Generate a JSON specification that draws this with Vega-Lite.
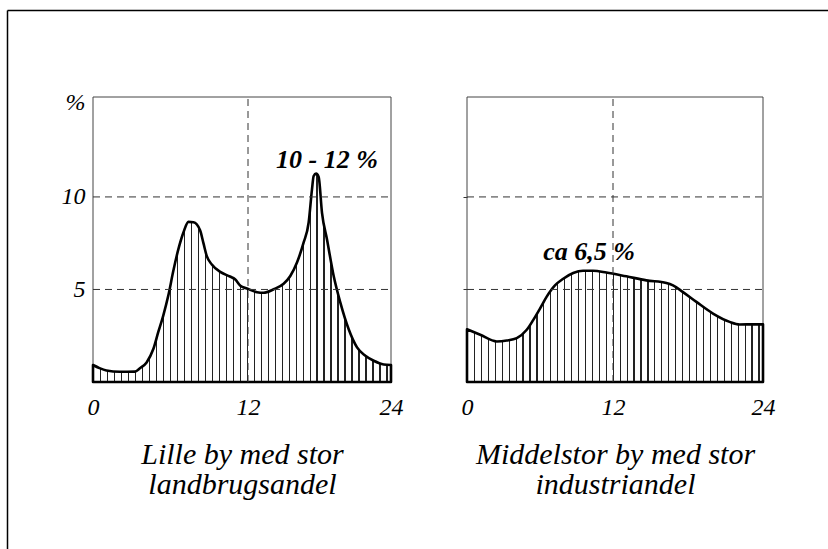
{
  "$schema": "https://vega.github.io/schema/vega-lite/v6.json",
  "width": 821,
  "height": 539,
  "autosize": {"type": "none"},
  "padding": {"left": 7, "top": 10, "right": 0, "bottom": 0},
  "background": "white",
  "config": {
    "view": {"stroke": null},
    "font": "Liberation Serif",
    "axis": {"labelFont": "Liberation Serif", "titleFont": "Liberation Serif", "labelColor": "#000", "titleColor": "#000"},
    "area": {
      "opacity": 1,
      "fill": {
        "gradient": "linear", "x1": 0, "y1": 0, "x2": 1, "y2": 0,
        "stops": [
          {"offset": 0, "color": "#fff"},
          {"offset": 0.0234375, "color": "#fff"}, {"offset": 0.0234375, "color": "#222"}, {"offset": 0.02734375, "color": "#222"}, {"offset": 0.02734375, "color": "#fff"},
          {"offset": 0.046875, "color": "#fff"}, {"offset": 0.046875, "color": "#222"}, {"offset": 0.05078125, "color": "#222"}, {"offset": 0.05078125, "color": "#fff"},
          {"offset": 0.0703125, "color": "#fff"}, {"offset": 0.0703125, "color": "#222"}, {"offset": 0.07421875, "color": "#222"}, {"offset": 0.07421875, "color": "#fff"},
          {"offset": 0.09375, "color": "#fff"}, {"offset": 0.09375, "color": "#222"}, {"offset": 0.09765625, "color": "#222"}, {"offset": 0.09765625, "color": "#fff"},
          {"offset": 0.1171875, "color": "#fff"}, {"offset": 0.1171875, "color": "#222"}, {"offset": 0.12109375, "color": "#222"}, {"offset": 0.12109375, "color": "#fff"},
          {"offset": 0.140625, "color": "#fff"}, {"offset": 0.140625, "color": "#222"}, {"offset": 0.14453125, "color": "#222"}, {"offset": 0.14453125, "color": "#fff"},
          {"offset": 0.1640625, "color": "#fff"}, {"offset": 0.1640625, "color": "#222"}, {"offset": 0.16796875, "color": "#222"}, {"offset": 0.16796875, "color": "#fff"},
          {"offset": 0.1875, "color": "#fff"}, {"offset": 0.1875, "color": "#222"}, {"offset": 0.19140625, "color": "#222"}, {"offset": 0.19140625, "color": "#fff"},
          {"offset": 0.2109375, "color": "#fff"}, {"offset": 0.2109375, "color": "#222"}, {"offset": 0.21484375, "color": "#222"}, {"offset": 0.21484375, "color": "#fff"},
          {"offset": 0.234375, "color": "#fff"}, {"offset": 0.234375, "color": "#222"}, {"offset": 0.23828125, "color": "#222"}, {"offset": 0.23828125, "color": "#fff"},
          {"offset": 0.2578125, "color": "#fff"}, {"offset": 0.2578125, "color": "#222"}, {"offset": 0.26171875, "color": "#222"}, {"offset": 0.26171875, "color": "#fff"},
          {"offset": 0.28125, "color": "#fff"}, {"offset": 0.28125, "color": "#222"}, {"offset": 0.28515625, "color": "#222"}, {"offset": 0.28515625, "color": "#fff"},
          {"offset": 0.3046875, "color": "#fff"}, {"offset": 0.3046875, "color": "#222"}, {"offset": 0.30859375, "color": "#222"}, {"offset": 0.30859375, "color": "#fff"},
          {"offset": 0.328125, "color": "#fff"}, {"offset": 0.328125, "color": "#222"}, {"offset": 0.33203125, "color": "#222"}, {"offset": 0.33203125, "color": "#fff"},
          {"offset": 0.3515625, "color": "#fff"}, {"offset": 0.3515625, "color": "#222"}, {"offset": 0.35546875, "color": "#222"}, {"offset": 0.35546875, "color": "#fff"},
          {"offset": 0.375, "color": "#fff"}, {"offset": 0.375, "color": "#222"}, {"offset": 0.37890625, "color": "#222"}, {"offset": 0.37890625, "color": "#fff"},
          {"offset": 0.3984375, "color": "#fff"}, {"offset": 0.3984375, "color": "#222"}, {"offset": 0.40234375, "color": "#222"}, {"offset": 0.40234375, "color": "#fff"},
          {"offset": 0.421875, "color": "#fff"}, {"offset": 0.421875, "color": "#222"}, {"offset": 0.42578125, "color": "#222"}, {"offset": 0.42578125, "color": "#fff"},
          {"offset": 0.4453125, "color": "#fff"}, {"offset": 0.4453125, "color": "#222"}, {"offset": 0.44921875, "color": "#222"}, {"offset": 0.44921875, "color": "#fff"},
          {"offset": 0.46875, "color": "#fff"}, {"offset": 0.46875, "color": "#222"}, {"offset": 0.47265625, "color": "#222"}, {"offset": 0.47265625, "color": "#fff"},
          {"offset": 0.4921875, "color": "#fff"}, {"offset": 0.4921875, "color": "#222"}, {"offset": 0.49609375, "color": "#222"}, {"offset": 0.49609375, "color": "#fff"},
          {"offset": 0.515625, "color": "#fff"}, {"offset": 0.515625, "color": "#222"}, {"offset": 0.51953125, "color": "#222"}, {"offset": 0.51953125, "color": "#fff"},
          {"offset": 0.5390625, "color": "#fff"}, {"offset": 0.5390625, "color": "#222"}, {"offset": 0.54296875, "color": "#222"}, {"offset": 0.54296875, "color": "#fff"},
          {"offset": 0.5625, "color": "#fff"}, {"offset": 0.5625, "color": "#222"}, {"offset": 0.56640625, "color": "#222"}, {"offset": 0.56640625, "color": "#fff"},
          {"offset": 0.5859375, "color": "#fff"}, {"offset": 0.5859375, "color": "#222"}, {"offset": 0.58984375, "color": "#222"}, {"offset": 0.58984375, "color": "#fff"},
          {"offset": 0.609375, "color": "#fff"}, {"offset": 0.609375, "color": "#222"}, {"offset": 0.61328125, "color": "#222"}, {"offset": 0.61328125, "color": "#fff"},
          {"offset": 0.6328125, "color": "#fff"}, {"offset": 0.6328125, "color": "#222"}, {"offset": 0.63671875, "color": "#222"}, {"offset": 0.63671875, "color": "#fff"},
          {"offset": 0.65625, "color": "#fff"}, {"offset": 0.65625, "color": "#222"}, {"offset": 0.66015625, "color": "#222"}, {"offset": 0.66015625, "color": "#fff"},
          {"offset": 0.6796875, "color": "#fff"}, {"offset": 0.6796875, "color": "#222"}, {"offset": 0.68359375, "color": "#222"}, {"offset": 0.68359375, "color": "#fff"},
          {"offset": 0.703125, "color": "#fff"}, {"offset": 0.703125, "color": "#222"}, {"offset": 0.70703125, "color": "#222"}, {"offset": 0.70703125, "color": "#fff"},
          {"offset": 0.7265625, "color": "#fff"}, {"offset": 0.7265625, "color": "#222"}, {"offset": 0.73046875, "color": "#222"}, {"offset": 0.73046875, "color": "#fff"},
          {"offset": 0.75, "color": "#fff"}, {"offset": 0.75, "color": "#222"}, {"offset": 0.75390625, "color": "#222"}, {"offset": 0.75390625, "color": "#fff"},
          {"offset": 0.7734375, "color": "#fff"}, {"offset": 0.7734375, "color": "#222"}, {"offset": 0.77734375, "color": "#222"}, {"offset": 0.77734375, "color": "#fff"},
          {"offset": 0.796875, "color": "#fff"}, {"offset": 0.796875, "color": "#222"}, {"offset": 0.80078125, "color": "#222"}, {"offset": 0.80078125, "color": "#fff"},
          {"offset": 0.8203125, "color": "#fff"}, {"offset": 0.8203125, "color": "#222"}, {"offset": 0.82421875, "color": "#222"}, {"offset": 0.82421875, "color": "#fff"},
          {"offset": 0.84375, "color": "#fff"}, {"offset": 0.84375, "color": "#222"}, {"offset": 0.84765625, "color": "#222"}, {"offset": 0.84765625, "color": "#fff"},
          {"offset": 0.8671875, "color": "#fff"}, {"offset": 0.8671875, "color": "#222"}, {"offset": 0.87109375, "color": "#222"}, {"offset": 0.87109375, "color": "#fff"},
          {"offset": 0.890625, "color": "#fff"}, {"offset": 0.890625, "color": "#222"}, {"offset": 0.89453125, "color": "#222"}, {"offset": 0.89453125, "color": "#fff"},
          {"offset": 0.9140625, "color": "#fff"}, {"offset": 0.9140625, "color": "#222"}, {"offset": 0.91796875, "color": "#222"}, {"offset": 0.91796875, "color": "#fff"},
          {"offset": 0.9375, "color": "#fff"}, {"offset": 0.9375, "color": "#222"}, {"offset": 0.94140625, "color": "#222"}, {"offset": 0.94140625, "color": "#fff"},
          {"offset": 0.9609375, "color": "#fff"}, {"offset": 0.9609375, "color": "#222"}, {"offset": 0.96484375, "color": "#222"}, {"offset": 0.96484375, "color": "#fff"},
          {"offset": 0.984375, "color": "#fff"}, {"offset": 0.984375, "color": "#222"}, {"offset": 0.98828125, "color": "#222"}, {"offset": 0.98828125, "color": "#fff"},
          {"offset": 1, "color": "#fff"}
        ]
      }
    }
  },
  "datasets": {
    "small": [
      {"h": 0, "v": 0.92}, {"h": 0.5, "v": 0.75}, {"h": 1.04, "v": 0.62}, {"h": 2.07, "v": 0.55},
      {"h": 3.24, "v": 0.56}, {"h": 3.63, "v": 0.74}, {"h": 4.15, "v": 1.06}, {"h": 4.67, "v": 1.78},
      {"h": 5.05, "v": 2.69}, {"h": 5.44, "v": 3.59}, {"h": 5.83, "v": 4.67}, {"h": 6.22, "v": 6.01},
      {"h": 6.61, "v": 7.18}, {"h": 7.0, "v": 8.08}, {"h": 7.39, "v": 8.65}, {"h": 7.78, "v": 8.63},
      {"h": 8.29, "v": 8.2}, {"h": 8.55, "v": 7.5}, {"h": 8.81, "v": 6.8}, {"h": 9.2, "v": 6.35},
      {"h": 9.85, "v": 5.95}, {"h": 10.6, "v": 5.7}, {"h": 11.0, "v": 5.55}, {"h": 11.41, "v": 5.2},
      {"h": 11.92, "v": 5.05}, {"h": 12.76, "v": 4.85}, {"h": 13.31, "v": 4.82}, {"h": 14.15, "v": 5.01},
      {"h": 14.99, "v": 5.31}, {"h": 15.55, "v": 5.73}, {"h": 16.11, "v": 6.46}, {"h": 16.67, "v": 7.54},
      {"h": 17.09, "v": 8.62}, {"h": 17.37, "v": 10.41}, {"h": 17.51, "v": 11.13}, {"h": 17.71, "v": 11.26},
      {"h": 17.93, "v": 11.08}, {"h": 18.21, "v": 9.14}, {"h": 18.63, "v": 7.7}, {"h": 19.19, "v": 5.73},
      {"h": 19.75, "v": 4.29}, {"h": 20.45, "v": 2.85}, {"h": 21.15, "v": 1.87}, {"h": 21.85, "v": 1.42},
      {"h": 22.55, "v": 1.15}, {"h": 23.39, "v": 0.95}, {"h": 24, "v": 0.92}
    ],
    "mid": [
      {"h": 0, "v": 2.85}, {"h": 1.09, "v": 2.55}, {"h": 2.45, "v": 2.19}, {"h": 3.27, "v": 2.24},
      {"h": 4.09, "v": 2.37}, {"h": 4.91, "v": 2.82}, {"h": 5.45, "v": 3.36}, {"h": 6.0, "v": 3.97},
      {"h": 6.54, "v": 4.6}, {"h": 7.23, "v": 5.22}, {"h": 7.91, "v": 5.58}, {"h": 8.73, "v": 5.89},
      {"h": 9.54, "v": 6.01}, {"h": 10.36, "v": 6.01}, {"h": 11.45, "v": 5.92}, {"h": 13.07, "v": 5.71},
      {"h": 14.67, "v": 5.49}, {"h": 16.27, "v": 5.35}, {"h": 16.8, "v": 5.22}, {"h": 17.6, "v": 4.86},
      {"h": 18.67, "v": 4.33}, {"h": 20.0, "v": 3.7}, {"h": 21.33, "v": 3.25}, {"h": 22.13, "v": 3.11},
      {"h": 24, "v": 3.12}
    ],
    "one": [{"k": 0}],
    "grid": [{"g": 5}, {"g": 10}],
    "noteSmall": [{"h": 18.63, "v": 11.56, "label": "10 - 12 %"}],
    "noteMid": [{"h": 10.03, "v": 6.59, "label": "ca 6,5 %"}]
  },
  "layer": [
    {
      "data": {"name": "one"},
      "mark": {"type": "point", "opacity": 0},
      "encoding": {
        "x": {"field": "k", "type": "quantitative", "scale": {"domain": [0, 1], "nice": false},
              "axis": {"orient": "top", "domain": true, "domainColor": "#000", "domainWidth": 1.5, "labels": false, "ticks": false, "grid": false, "title": null}},
        "y": {"field": "k", "type": "quantitative", "scale": {"domain": [0, 1], "nice": false},
              "axis": {"orient": "left", "domain": true, "domainColor": "#000", "domainWidth": 1.5, "labels": false, "ticks": false, "grid": false, "title": null}}
      }
    },
    {
      "data": {"name": "one"},
      "mark": {"type": "rect", "filled": false, "color": "#444", "strokeWidth": 1},
      "encoding": {
        "x": {"datum": 0, "type": "quantitative", "axis": null, "scale": {"domain": [0, 12, 24], "range": [86, 241, 384], "nice": false, "zero": false}},
        "x2": {"datum": 24},
        "y": {"datum": 0, "type": "quantitative", "axis": null, "scale": {"domain": [0, 15.4], "range": [372, 87], "nice": false, "zero": false}},
        "y2": {"datum": 15.4}
      }
    },
    {
      "data": {"name": "small"},
      "mark": {"type": "area", "interpolate": "monotone", "stroke": "#000", "strokeWidth": 2.6, "strokeJoin": "round"},
      "encoding": {
        "x": {"field": "h", "type": "quantitative",
              "scale": {"domain": [0, 12, 24], "range": [86, 241, 384], "nice": false, "zero": false},
              "axis": {"orient": "bottom", "offset": -167, "values": [0, 12, 24], "domain": false, "ticks": false, "grid": false,
                       "labelFontSize": 24, "labelFontStyle": "italic", "labelPadding": 13, "labelFlush": false, "labelOverlap": false,
                       "title": ["Lille by med stor", "landbrugsandel"], "titleFontSize": 30, "titleFontStyle": "italic", "titleFontWeight": "normal",
                       "titleLineHeight": 30, "titleY": 81, "titleBaseline": "alphabetic"}},
        "y": {"field": "v", "type": "quantitative",
              "scale": {"domain": [0, 15.4], "range": [372, 87], "nice": false, "zero": false},
              "axis": {"orient": "left", "offset": -86, "values": [5, 10], "domain": false, "ticks": false, "grid": false,
                       "labelFontSize": 24, "labelFontStyle": "italic", "labelPadding": 8,
                       "title": "%", "titleAngle": 0, "titleX": -8, "titleY": 92, "titleAlign": "right", "titleBaseline": "middle",
                       "titleFontSize": 24, "titleFontStyle": "italic", "titleFontWeight": "normal"}}
      }
    },
    {
      "data": {"name": "grid"},
      "mark": {"type": "rule", "color": "#333", "strokeWidth": 1, "strokeDash": [7, 5]},
      "encoding": {
        "y": {"field": "g", "type": "quantitative", "axis": null, "scale": {"domain": [0, 15.4], "range": [372, 87], "nice": false, "zero": false}},
        "x": {"datum": 0, "type": "quantitative", "axis": null, "scale": {"domain": [0, 12, 24], "range": [86, 241, 384], "nice": false, "zero": false}},
        "x2": {"datum": 24}
      }
    },
    {
      "data": {"name": "one"},
      "mark": {"type": "rule", "color": "#333", "strokeWidth": 1, "strokeDash": [7, 5]},
      "encoding": {
        "x": {"datum": 12, "type": "quantitative", "axis": null, "scale": {"domain": [0, 12, 24], "range": [86, 241, 384], "nice": false, "zero": false}},
        "y": {"datum": 0, "type": "quantitative", "axis": null, "scale": {"domain": [0, 15.4], "range": [372, 87], "nice": false, "zero": false}},
        "y2": {"datum": 15.4}
      }
    },
    {
      "data": {"name": "noteSmall"},
      "mark": {"type": "text", "fontSize": 26, "fontWeight": "bold", "fontStyle": "italic", "baseline": "alphabetic", "align": "center", "color": "#000"},
      "encoding": {
        "x": {"field": "h", "type": "quantitative", "axis": null, "scale": {"domain": [0, 12, 24], "range": [86, 241, 384], "nice": false, "zero": false}},
        "y": {"field": "v", "type": "quantitative", "axis": null, "scale": {"domain": [0, 15.4], "range": [372, 87], "nice": false, "zero": false}},
        "text": {"field": "label"}
      }
    },
    {
      "data": {"name": "one"},
      "mark": {"type": "rect", "filled": false, "color": "#444", "strokeWidth": 1},
      "encoding": {
        "x": {"datum": 0, "type": "quantitative", "axis": null, "scale": {"domain": [0, 12, 24], "range": [460, 606, 756], "nice": false, "zero": false}},
        "x2": {"datum": 24},
        "y": {"datum": 0, "type": "quantitative", "axis": null, "scale": {"domain": [0, 15.4], "range": [372, 87], "nice": false, "zero": false}},
        "y2": {"datum": 15.4}
      }
    },
    {
      "data": {"name": "mid"},
      "mark": {"type": "area", "interpolate": "monotone", "stroke": "#000", "strokeWidth": 2.6, "strokeJoin": "round"},
      "encoding": {
        "x": {"field": "h", "type": "quantitative",
              "scale": {"domain": [0, 12, 24], "range": [460, 606, 756], "nice": false, "zero": false},
              "axis": {"orient": "bottom", "offset": -167, "values": [0, 12, 24], "domain": false, "ticks": false, "grid": false,
                       "labelFontSize": 24, "labelFontStyle": "italic", "labelPadding": 13, "labelFlush": false, "labelOverlap": false,
                       "title": ["Middelstor by med stor", "industriandel"], "titleFontSize": 30, "titleFontStyle": "italic", "titleFontWeight": "normal",
                       "titleLineHeight": 30, "titleY": 81, "titleBaseline": "alphabetic"}},
        "y": {"field": "v", "type": "quantitative",
              "scale": {"domain": [0, 15.4], "range": [372, 87], "nice": false, "zero": false},
              "axis": {"orient": "left", "offset": -460, "values": [5, 10], "domain": false, "labels": false, "ticks": true,
                       "tickSize": 7, "tickColor": "#333", "tickWidth": 1, "tickDash": [4, 3], "grid": false, "title": null}}
      }
    },
    {
      "data": {"name": "grid"},
      "mark": {"type": "rule", "color": "#333", "strokeWidth": 1, "strokeDash": [7, 5]},
      "encoding": {
        "y": {"field": "g", "type": "quantitative", "axis": null, "scale": {"domain": [0, 15.4], "range": [372, 87], "nice": false, "zero": false}},
        "x": {"datum": 0, "type": "quantitative", "axis": null, "scale": {"domain": [0, 12, 24], "range": [460, 606, 756], "nice": false, "zero": false}},
        "x2": {"datum": 24}
      }
    },
    {
      "data": {"name": "one"},
      "mark": {"type": "rule", "color": "#333", "strokeWidth": 1, "strokeDash": [7, 5]},
      "encoding": {
        "x": {"datum": 12, "type": "quantitative", "axis": null, "scale": {"domain": [0, 12, 24], "range": [460, 606, 756], "nice": false, "zero": false}},
        "y": {"datum": 0, "type": "quantitative", "axis": null, "scale": {"domain": [0, 15.4], "range": [372, 87], "nice": false, "zero": false}},
        "y2": {"datum": 15.4}
      }
    },
    {
      "data": {"name": "noteMid"},
      "mark": {"type": "text", "fontSize": 26, "fontWeight": "bold", "fontStyle": "italic", "baseline": "alphabetic", "align": "center", "color": "#000"},
      "encoding": {
        "x": {"field": "h", "type": "quantitative", "axis": null, "scale": {"domain": [0, 12, 24], "range": [460, 606, 756], "nice": false, "zero": false}},
        "y": {"field": "v", "type": "quantitative", "axis": null, "scale": {"domain": [0, 15.4], "range": [372, 87], "nice": false, "zero": false}},
        "text": {"field": "label"}
      }
    }
  ],
  "resolve": {
    "scale": {"x": "independent", "y": "independent"},
    "axis": {"x": "independent", "y": "independent"}
  }
}
